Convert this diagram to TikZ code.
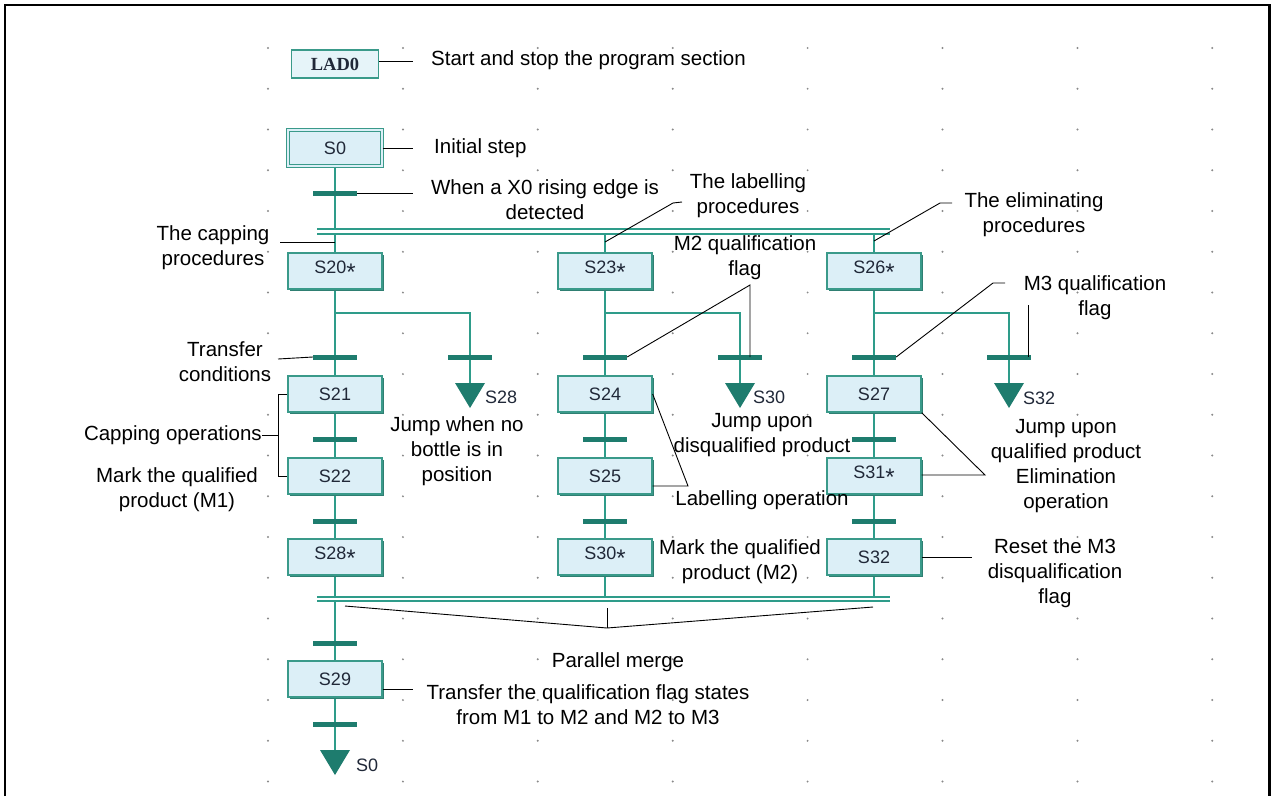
\documentclass[tikz,border=0pt]{standalone}
\usepackage{fontspec}
\setmainfont{Liberation Sans}
\newfontfamily\ladfont{Liberation Serif}
\usetikzlibrary{calc}
\definecolor{flowc}{HTML}{2E9C8A}
\definecolor{barc}{HTML}{1E7C6E}
\definecolor{shadc}{HTML}{2F7F72}
\definecolor{stepfill}{HTML}{DCEFF7}
\definecolor{stepdraw}{HTML}{3A9A8A}
\definecolor{steptext}{HTML}{202838}
\definecolor{dotc}{HTML}{8A8A8A}
\pgfdeclarelayer{bg}
\pgfsetlayers{bg,main}
\newcommand{\lowast}{\raisebox{-7pt}{\fontsize{24}{24}\selectfont *}}
\begin{document}
\begin{tikzpicture}[x=1pt,y=-1pt,
  stepbox/.style={rectangle, draw=stepdraw, line width=1.3, fill=stepfill, minimum width=94, minimum height=36, inner sep=0,
     text=steptext, font=\fontsize{18}{20}\selectfont,
     preaction={fill=shadc, transform canvas={xshift=2pt,yshift=-2pt}}},
  initbox/.style={stepbox, double=stepfill, double distance=2.4, line width=1.1},
  ladbox/.style={rectangle, draw=stepdraw, line width=1.4, fill=stepfill!70, minimum width=87, minimum height=28, inner sep=0,
     text=steptext, font=\ladfont\bfseries\fontsize{18.5}{20}\selectfont},
  bar/.style={rectangle, fill=barc, minimum width=44, minimum height=5, inner sep=0},
  flow/.style={draw=flowc, line width=2},
  dline/.style={draw=flowc, line width=2, double=white, double distance=2.2},
  lead/.style={draw=black, line width=0.9},
  lbl/.style={font=\fontsize{20.5}{25}\selectfont, align=center, inner sep=0},
  jlbl/.style={font=\fontsize{18}{20}\selectfont, text=steptext, anchor=west, inner sep=0},
  tri/.style={fill=barc}
]
\useasboundingbox (0,0) rectangle (1276,796);
% frame
\draw[line width=2.5] (5,796) -- (5,5) -- (1269.5,5) -- (1269.5,796);
% grid dots
\foreach \i in {0,...,7} \foreach \j in {0,...,18}
  \fill[dotc] (268+134.9*\i, 48+40.75*\j) circle[radius=1.1pt];

% ---- steps
\node[ladbox] (LAD0) at (335,64) {LAD0};
\node[initbox] (s0) at (335,148) {S0};
\node[stepbox] (s20) at (335,271) {S20\lowast};
\node[stepbox] (s21) at (335,394) {S21};
\node[stepbox] (s22) at (335,476) {S22};
\node[stepbox] (s28) at (335,557) {S28\lowast};
\node[stepbox] (s29) at (335,679) {S29};
\node[stepbox] (s23) at (605,271) {S23\lowast};
\node[stepbox] (s24) at (605,394) {S24};
\node[stepbox] (s25) at (605,476) {S25};
\node[stepbox] (s30) at (605,557) {S30\lowast};
\node[stepbox] (s26) at (874,271) {S26\lowast};
\node[stepbox] (s27) at (874,394) {S27};
\node[stepbox] (s31) at (874,476) {S31\lowast};
\node[stepbox] (s32) at (874,557) {S32};

% ---- transition bars
\node[bar] (b0) at (335,193) {};
\node[bar] (b1) at (335,357) {};
\node[bar] (b2) at (335,439) {};
\node[bar] (b3) at (335,521) {};
\node[bar] (b4) at (335,643) {};
\node[bar] (b5) at (335,724) {};
\node[bar] (b21) at (605,357) {};
\node[bar] (b22) at (605,439) {};
\node[bar] (b23) at (605,521) {};
\node[bar] (b31) at (874,357) {};
\node[bar] (b32) at (874,439) {};
\node[bar] (b33) at (874,521) {};
\node[bar] (j1) at (470,357) {};
\node[bar] (j2) at (740,357) {};
\node[bar] (j3) at (1009,357) {};

% ---- coordinates
\coordinate (sL) at (317,231.5);
\coordinate (sR) at (890,231.5);
\coordinate (mL) at (317,599);
\coordinate (mR) at (890,599);
\coordinate (k1) at (470,313);
\coordinate (k2) at (740,313);
\coordinate (k3) at (1009,313);
\coordinate (t28) at (470,383);
\coordinate (t30) at (740,383);
\coordinate (t32) at (1009,383);
\coordinate (tS0) at (335,750);

% ---- flow lines
\begin{pgfonlayer}{bg}
\draw[flow] (s0) -- (s0 |- sL);
\draw[flow] (s20 |- sL) -- (s20);
\draw[flow] (s23 |- sL) -- (s23);
\draw[flow] (s26 |- sL) -- (s26);
\draw[flow] (s20) -- (s21);
\draw[flow] (s21) -- (s22);
\draw[flow] (s22) -- (s28);
\draw[flow] (s28) -- (s28 |- mL);
\draw[flow] (s23) -- (s24);
\draw[flow] (s24) -- (s25);
\draw[flow] (s25) -- (s30);
\draw[flow] (s30) -- (s30 |- mL);
\draw[flow] (s26) -- (s27);
\draw[flow] (s27) -- (s31);
\draw[flow] (s31) -- (s32);
\draw[flow] (s32) -- (s32 |- mL);
\draw[flow] (s29 |- mL) -- (s29);
\draw[flow] (s29) -- (tS0);
\draw[flow] (k1 -| s20) -- (k1) -- (t28);
\draw[flow] (k2 -| s23) -- (k2) -- (t30);
\draw[flow] (k3 -| s26) -- (k3) -- (t32);
\end{pgfonlayer}
\draw[dline] (sL) -- (sR);
\draw[dline] (mL) -- (mR);

% ---- jump triangles
\fill[tri] (t28) ++(-15,0) -- ++(30,0) -- ++(-15,25) -- cycle;
\fill[tri] (t30) ++(-15,0) -- ++(30,0) -- ++(-15,25) -- cycle;
\fill[tri] (t32) ++(-15,0) -- ++(30,0) -- ++(-15,25) -- cycle;
\fill[tri] (tS0) ++(-15,0) -- ++(30,0) -- ++(-15,25) -- cycle;
\node[jlbl] (l28) at (485,397) {S28};
\node[jlbl] (l30) at (753,397) {S30};
\node[jlbl] (l32) at (1023,398) {S32};
\node[jlbl] (lS0) at (356,765) {S0};

% ---- labels
\node[lbl, anchor=west, inner xsep=18] (tStart) at (413,60) {Start and stop the program section};
\node[lbl, anchor=west, inner xsep=21] (tInit) at (413,148) {Initial step};
\node[lbl] (tX0) at (545,200) {When a X0 rising edge is\\detected};
\node[lbl] (tLab) at (748,196) {The labelling\\procedures};
\node[lbl] (tElim) at (1034,215) {The eliminating\\procedures};
\node[lbl] (tCap) at (213,248) {The capping\\procedures};
\node[lbl] (tM2) at (745,258) {M2 qualification\\flag};
\node[lbl] (tM3) at (1095,298) {M3 qualification\\flag};
\node[lbl] (tTr) at (225,362) {Transfer\\conditions};
\node[lbl, anchor=east] (tCapOp) at (262,435) {Capping operations};
\node[lbl] (tMark1) at (177,490) {Mark the qualified\\product (M1)};
\node[lbl] (tJ28) at (457,451) {Jump when no\\bottle is in\\position};
\node[lbl] (tJ30) at (762,435) {Jump upon\\disqualified product};
\node[lbl] (tLabOp) at (762,500) {Labelling operation};
\node[lbl] (tMark2) at (740,562) {Mark the qualified\\product (M2)};
\node[lbl] (tJ32) at (1066,466) {Jump upon\\qualified product\\Elimination\\operation};
\node[lbl] (tReset) at (1055,573) {Reset the M3\\disqualification\\flag};
\node[lbl] (tPM) at (618,662) {Parallel merge};
\node[lbl] (tFlag) at (588,705) {Transfer the qualification flag states\\from M1 to M2 and M2 to M3};

% ---- leader coordinates
\coordinate (ex0) at (413,193);
\coordinate (ecap) at (280,242);
\coordinate (klab) at (605,242);
\coordinate (elab1) at (673,203);
\coordinate (elab2) at (682,202);
\coordinate (kel) at (874,241);
\coordinate (eel1) at (940,203);
\coordinate (eel2) at (952,203);
\coordinate (m2) at (750,285);
\coordinate (m3a) at (993,283);
\coordinate (m3b) at (1005,283);
\coordinate (m3v) at (1028,305);
\coordinate (etr) at (278,359);
\coordinate (br) at (278,435);
\coordinate (la) at (688,486);
\coordinate (el) at (985,475);
\coordinate (er) at (972,557);
\coordinate (pmL) at (345,606);
\coordinate (pm) at (607,628);
\coordinate (pmR) at (873,607);
\coordinate (pmT) at (607,608);
\coordinate (e29) at (413,689);

% ---- leader lines
\draw[lead] ([yshift=3pt]LAD0.east) -- ([yshift=3pt]LAD0.east -| tStart.west);
\draw[lead] (s0.east) -- (s0.east -| tInit.west);
\draw[lead] (b0.east) -- (ex0);
\draw[lead] (ecap) -- (ecap -| s20);
\draw[lead] (klab) -- (elab1) -- (elab2);
\draw[lead] (kel) -- (eel1) -- (eel2);
\draw[lead] (b21.east) -- (m2) -- (m2 |- j2);
\draw[lead] (b31.east) -- (m3a) -- (m3b);
\draw[lead] (m3v) -- (m3v |- j3);
\draw[lead] (etr) -- (b1.west);
\draw[lead] (s21.west) -- (s21.west -| br) -- (s22.west -| br) -- (s22.west);
\draw[lead] (tCapOp.east) -- (br);
\draw[lead] (s24.east) -- (la) -- (la -| s25.east);
\draw[lead] (s27.south east) -- (el) -- (el -| s31.east);
\draw[lead] (s32.east) -- (er);
\draw[lead] (pmL) -- (pm) -- (pmR);
\draw[lead] (pmT) -- (pm);
\draw[lead] (e29 -| s29.east) -- (e29);
\end{tikzpicture}
\end{document}
